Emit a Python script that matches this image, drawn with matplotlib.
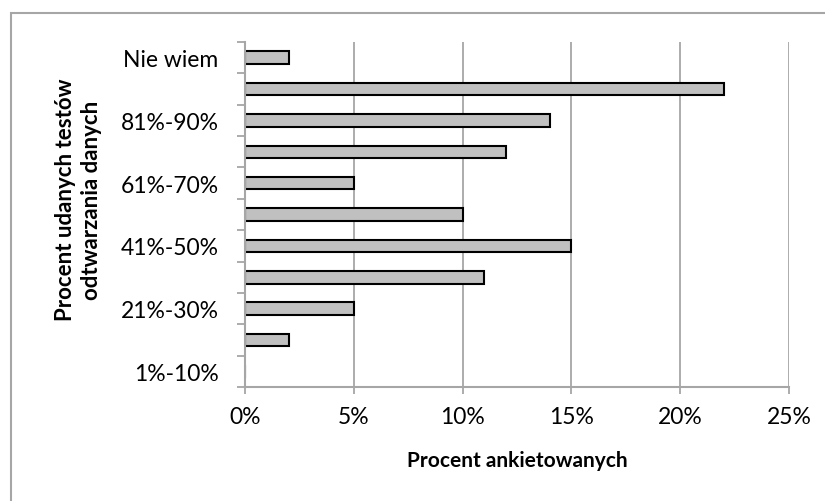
import numpy as np
import matplotlib.pyplot as plt
from matplotlib.patches import Rectangle

categories = ["1%-10%", "11%-20%", "21%-30%", "31%-40%", "41%-50%", "51%-60%",
              "61%-70%", "71%-80%", "81%-90%", "91%-100%", "Nie wiem"]
values = [0, 2, 5, 11, 15, 10, 5, 12, 14, 22, 2]
xticks = [0, 5, 10, 15, 20, 25]

plt.rcParams['font.family'] = ['Lato', 'DejaVu Sans']

fig = plt.figure(figsize=(8.25, 5.02), dpi=100)
# chart-area frame, only top and left edges fall inside the image
fig.patches.append(Rectangle((11/825, -1), 2, 2 - 14/502, transform=fig.transFigure,
                             fill=False, edgecolor='#a6a6a6', linewidth=1.5))

ax = fig.add_axes([245/825, 1 - 388/502, (789 - 245)/825, (388 - 43)/502])

y = np.arange(len(categories))
ax.barh(y, values, height=0.4, color='#c0c0c0', edgecolor='black', linewidth=1.5, zorder=2)

ax.set_xlim(0, 25)
ax.set_ylim(-0.5, len(categories) - 0.5)
ax.set_xticks(xticks)
ax.set_xticklabels([f"{v}%" for v in xticks])
ax.xaxis.grid(True, color='#a6a6a6', linewidth=1.3)
ax.set_axisbelow(True)

# tick marks on category boundaries, labels on every second category
ax.set_yticks(np.arange(-0.5, len(categories), 1.0))
ax.set_yticklabels([])
ax.set_yticks(y[::2], minor=True)
ax.set_yticklabels(categories[::2], minor=True)
ax.tick_params(axis='y', which='major', length=6, width=1.3, color='#a6a6a6')
ax.tick_params(axis='y', which='minor', length=0, pad=19, labelsize=16.5)
ax.tick_params(axis='x', length=5, width=1.3, color='#a6a6a6', pad=9, labelsize=16.5)

for s in ['top', 'right']:
    ax.spines[s].set_visible(False)
for s in ['left', 'bottom']:
    ax.spines[s].set_color('#a6a6a6')
    ax.spines[s].set_linewidth(1.5)
    ax.spines[s].set_zorder(3)

ax.set_xlabel("Procent ankietowanych", fontsize=15, fontweight='bold', labelpad=16)
ax.set_ylabel("Procent udanych testów\nodtwarzania danych", fontsize=16,
              fontweight='bold', linespacing=1.35)
ax.yaxis.set_label_coords(-0.262, 0.545)

fig.savefig("out.png", dpi=100)
